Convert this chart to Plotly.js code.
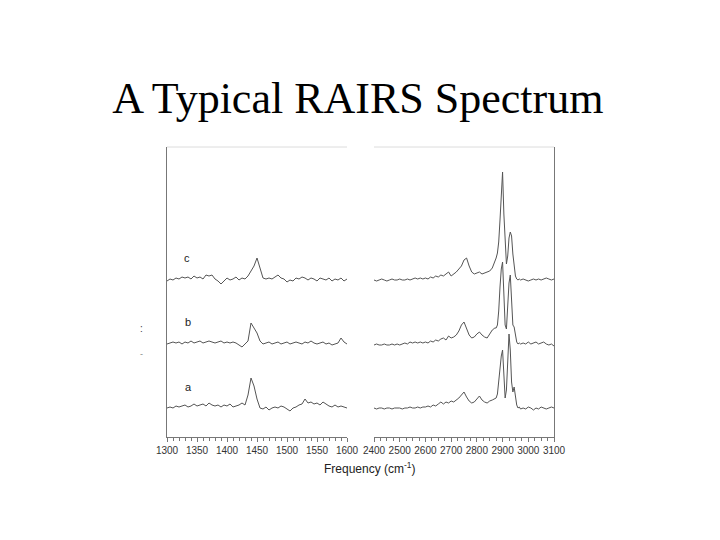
<!DOCTYPE html>
<html>
<head>
<meta charset="utf-8">
<script src="https://cdn.plot.ly/plotly-3.0.1.min.js"></script>
<style>html,body{margin:0;padding:0;background:#fff;}#chart{width:720px;height:540px;}</style>
</head>
<body>
<div id="chart"></div>
<script>
// ---- data ----
const chartTitle = "A Typical RAIRS Spectrum";
const xTitle = "Frequency (cm<sup>-1</sup>)";
const seriesNames = ["a", "b", "c"];

const lowFreq = [1300,1305,1310,1315,1320,1325,1330,1335,1340,1345,1350,1355,1360,1365,1370,1375,1380,1385,1390,1395,
  1400,1405,1410,1415,1420,1425,1430,1435,1440,1445,1450,1455,1460,1465,1470,1475,1480,1485,1490,1495,
  1500,1505,1510,1515,1520,1525,1530,1535,1540,1545,1550,1555,1560,1565,1570,1575,1580,1585,1590,1595,1600];

const lowA = [-1,0,-1,1,0,1,2,0,1,3,1,2,3,1,4,2,1,2,0,2,
  1,3,0,1,2,4,2,12,29,21,8,-1,-2,0,-3,-1,0,-1,1,0,
  -2,-4,-1,0,2,3,8,4,5,3,4,2,5,3,1,0,2,0,1,0,-1];
const lowB = [-1,0,1,0,1,-1,1,0,2,0,1,2,0,1,2,1,0,1,2,0,
  1,0,1,0,-2,-4,-1,2,20,15,10,2,-1,0,1,-1,0,1,-1,0,
  1,-1,0,1,0,-1,1,0,2,0,-1,0,1,-1,0,-2,-1,0,5,1,-1];
const lowC = [-2,0,-1,1,0,2,1,2,0,3,1,2,0,4,3,4,0,-2,-5,-2,
  1,-1,0,2,-1,1,0,3,8,13,21,10,1,0,1,0,2,4,1,0,
  -3,-1,-2,1,0,2,1,-1,1,0,-2,1,0,-1,1,-2,0,-1,1,-2,0];

const highFreq = [2400,2410,2420,2430,2440,2450,2460,2470,2480,2490,
  2500,2510,2520,2530,2540,2550,2560,2570,2580,2590,
  2600,2610,2620,2630,2640,2650,2660,2670,2680,2690,
  2700,2710,2720,2730,2740,2750,2760,2770,2780,2790,
  2800,2810,2820,2830,2840,2850,2860,2870,
  2875,2880,2885,2890,2895,2900,2905,2910,2915,2920,2925,2930,2935,2940,2945,2950,2955,2960,2965,2970,
  2980,2990,3000,3010,3020,3030,3040,3050,3060,3070,3080,3090,3100];

const highA = [0,-1,0,0,-1,0,0,-1,0,0,
  0,-1,0,0,1,0,0,1,0,1,
  1,2,1,3,2,4,6,4,6,5,
  7,6,8,10,13,16,11,7,5,6,
  9,12,8,6,5,7,8,9,
  10,14,26,42,52,58,32,10,18,48,74,58,26,16,21,12,3,0,1,-1,
  0,-1,1,0,-2,0,-1,1,0,-1,0,1,0];
const highB = [0,1,0,0,1,0,0,1,0,1,
  0,1,2,1,3,2,3,2,3,2,
  3,2,4,3,5,4,6,7,5,9,
  7,8,10,14,20,23,17,10,7,8,
  11,13,10,8,7,11,15,17,
  17,20,34,58,76,83,50,20,16,36,62,70,46,20,18,9,3,1,2,1,
  2,1,3,1,2,3,1,2,3,1,0,1,-1];
const highC = [0,-1,0,1,0,-1,0,1,0,0,
  1,0,0,1,0,1,2,1,2,1,
  2,1,3,2,4,3,5,4,6,8,
  4,6,8,11,14,20,22,14,8,6,
  7,8,6,7,8,9,12,18,
  22,27,38,60,86,108,66,32,16,24,42,48,44,26,11,4,1,0,1,0,
  1,0,-1,0,1,0,1,0,1,2,1,0,1];

const lowOffsets = [30, 94, 158];   // stacking offsets a, b, c
const highOffsets = [29, 92, 157];
const lowTicks = [1300, 1350, 1400, 1450, 1500, 1550, 1600];
const highTicks = [2400, 2500, 2600, 2700, 2800, 2900, 3000, 3100];

// ---- build ----
const lineStyle = {color: "#555", width: 1};
const lowSeries = [lowA, lowB, lowC];
const highSeries = [highA, highB, highC];
const traces = [];
lowSeries.forEach((s, i) => traces.push({
  x: lowFreq, y: s.map(v => v + lowOffsets[i]), type: "scatter", mode: "lines",
  line: lineStyle, xaxis: "x", yaxis: "y", name: seriesNames[i], showlegend: false, hoverinfo: "skip"
}));
highSeries.forEach((s, i) => traces.push({
  x: highFreq, y: s.map(v => v + highOffsets[i]), type: "scatter", mode: "lines",
  line: lineStyle, xaxis: "x2", yaxis: "y2", name: seriesNames[i], showlegend: false, hoverinfo: "skip"
}));

const sans = "Liberation Sans, Arial, sans-serif";
const tickFont = {family: sans, size: 10, color: "#333"};
const axColor = "#777";
const yDomain = [103/540, 393/540];

const layout = {
  width: 720, height: 540, autosize: false,
  margin: {l: 0, r: 0, t: 0, b: 0},
  paper_bgcolor: "#fff", plot_bgcolor: "#fff",
  title: {text: chartTitle, x: 0.497, xanchor: "center", y: 0.82, yanchor: "middle",
    font: {family: "Liberation Serif, Times New Roman, serif", size: 44, color: "#000"}},
  xaxis: {domain: [167/720, 347/720], range: [1300, 1600], anchor: "y",
    tickmode: "array", tickvals: lowTicks, ticks: "outside", ticklen: 4, tickwidth: 1, tickcolor: axColor,
    minor: {dtick: 10, tick0: 1300, ticks: "outside", ticklen: 3, tickcolor: axColor, showgrid: false},
    showline: true, linecolor: axColor, linewidth: 1, showgrid: false, zeroline: false, tickfont: tickFont},
  xaxis2: {domain: [374/720, 554/720], range: [2400, 3100], anchor: "y2",
    tickmode: "array", tickvals: highTicks, ticks: "outside", ticklen: 4, tickwidth: 1, tickcolor: axColor,
    minor: {dtick: 25, tick0: 2400, ticks: "outside", ticklen: 3, tickcolor: axColor, showgrid: false},
    showline: true, linecolor: axColor, linewidth: 1, showgrid: false, zeroline: false, tickfont: tickFont},
  yaxis: {domain: yDomain, range: [0, 290], anchor: "x", side: "left",
    showline: true, linecolor: axColor, linewidth: 1, showticklabels: false, ticks: "", showgrid: false, zeroline: false},
  yaxis2: {domain: yDomain, range: [0, 290], anchor: "x2", side: "right",
    showline: true, linecolor: axColor, linewidth: 1, showticklabels: false, ticks: "", showgrid: false, zeroline: false},
  shapes: [
    {type: "line", xref: "x domain", yref: "y domain", x0: 0, x1: 1, y0: 1, y1: 1, line: {color: "#dcdcdc", width: 1}},
    {type: "line", xref: "x2 domain", yref: "y2 domain", x0: 0, x1: 1, y0: 1, y1: 1, line: {color: "#dcdcdc", width: 1}}
  ],
  annotations: [
    {text: seriesNames[2], xref: "x", yref: "y", x: 1333, y: 179, showarrow: false,
      font: {family: sans, size: 11, color: "#222"}},
    {text: seriesNames[1], xref: "x", yref: "y", x: 1335, y: 115, showarrow: false,
      font: {family: sans, size: 11, color: "#222"}},
    {text: seriesNames[0], xref: "x", yref: "y", x: 1335, y: 50, showarrow: false,
      font: {family: sans, size: 11, color: "#222"}},
    {text: xTitle, xref: "paper", yref: "paper", x: 370/720, y: (540-468)/540, xanchor: "center", yanchor: "middle",
      showarrow: false, font: {family: sans, size: 12, color: "#222"}},
    {text: ":", xref: "paper", yref: "paper", x: 138/720, y: (540-328)/540, showarrow: false,
      font: {family: sans, size: 10, color: "#444"}},
    {text: "-", xref: "paper", yref: "paper", x: 138/720, y: (540-354)/540, showarrow: false,
      font: {family: sans, size: 9, color: "#888"}}
  ]
};

Plotly.newPlot("chart", traces, layout, {displayModeBar: false, staticPlot: true});
</script>
</body>
</html>
